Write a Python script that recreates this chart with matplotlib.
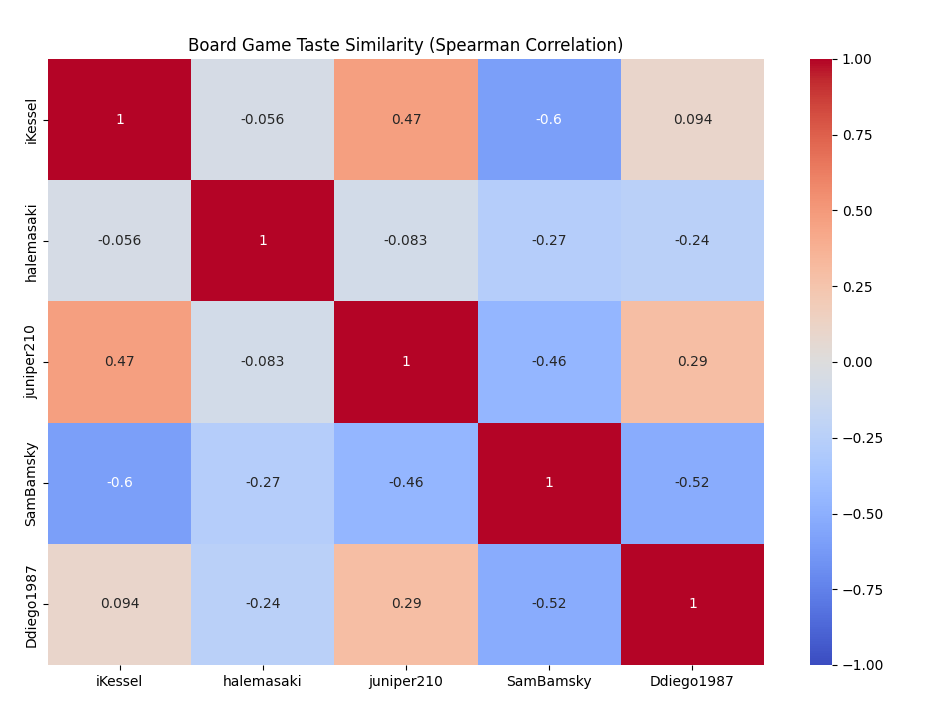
import numpy as np
import pandas as pd
import matplotlib
matplotlib.use("Agg")
import matplotlib.pyplot as plt
import seaborn as sns

# players and their pairwise Spearman correlations
players = ["iKessel", "halemasaki", "juniper210", "SamBamsky", "Ddiego1987"]
corr_values = [
    [1.0, -0.056, 0.47, -0.6, 0.094],
    [-0.056, 1.0, -0.083, -0.27, -0.24],
    [0.47, -0.083, 1.0, -0.46, 0.29],
    [-0.6, -0.27, -0.46, 1.0, -0.52],
    [0.094, -0.24, 0.29, -0.52, 1.0],
]

corr = pd.DataFrame(corr_values, index=players, columns=players)

fig = plt.figure(figsize=(9.32, 7.27), dpi=100)
ax = fig.add_axes([48 / 932, 1 - 665 / 727, (764 - 48) / 932, (665 - 59) / 727])
cax = fig.add_axes([810 / 932, 1 - 665 / 727, (832 - 810) / 932, (665 - 59) / 727])

sns.heatmap(corr, annot=True, cmap="coolwarm", vmin=-1, vmax=1, ax=ax, cbar_ax=cax)
ax.set_title("Board Game Taste Similarity (Spearman Correlation)", fontsize=12)

fig.savefig("out.png", dpi=100)
plt.close(fig)
